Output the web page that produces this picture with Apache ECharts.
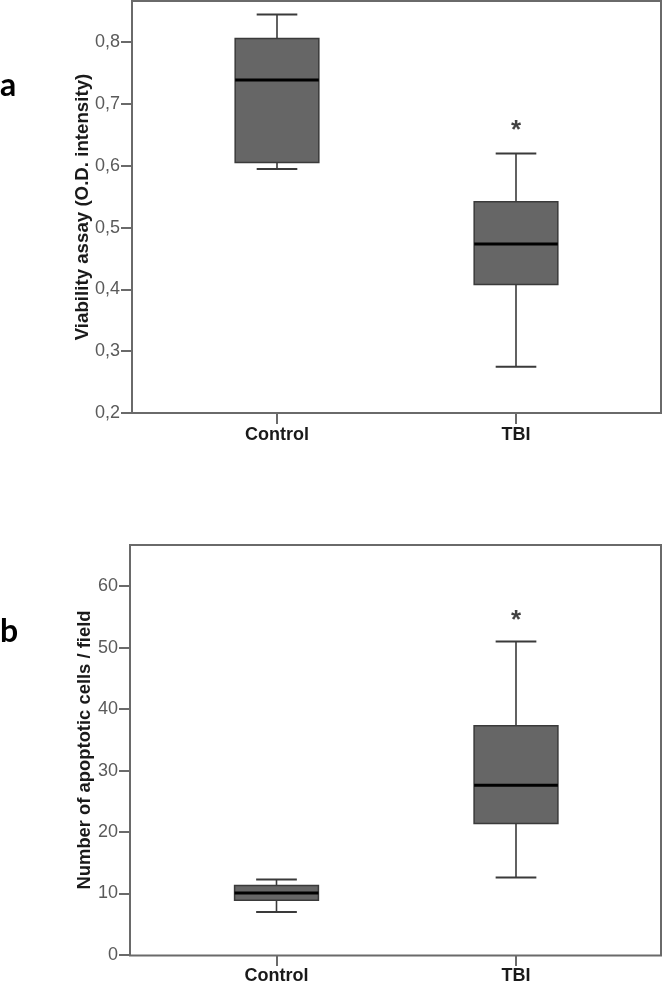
<!DOCTYPE html>
<html>
<head>
<meta charset="utf-8">
<script src="https://cdn.jsdelivr.net/npm/echarts@6/dist/echarts.min.js"></script>
<style>
html,body{margin:0;padding:0;background:#fff;}
#c{width:663px;height:985px;}
</style>
</head>
<body>
<div id="c"></div>
<script>
// ---- data ----
const categories = ['Control', 'TBI'];
// [min, Q1, median, Q3, max]
const viabilityControl = [0.595, 0.6055, 0.739, 0.806, 0.845];
const viabilityTBI = [0.275, 0.408, 0.4735, 0.542, 0.62];
const apoptoticControl = [7.0, 8.9, 10.1, 11.3, 12.3];
const apoptoticTBI = [12.6, 21.4, 27.6, 37.3, 51.0];
const viabilityTicks = [0.2, 0.3, 0.4, 0.5, 0.6, 0.7, 0.8];
const apoptoticTicks = [0, 10, 20, 30, 40, 50, 60];
const viabilitySig = ['TBI', 0.664];
const apoptoticSig = ['TBI', 55.1];
const titleA = 'Viability assay (O.D. intensity)';
const titleB = 'Number of apoptotic cells / field';

// ---- styles ----
const frameColor = '#6a6a6a';
const tickLabelColor = '#5a5a5a';
const boxFill = '#666666';
const boxStroke = '#3a3a3a';
const tickFont = '"Liberation Sans Narrow", "Arial Narrow", "Liberation Sans", Arial, sans-serif';

function boxData(a, b) {
  return [[0].concat(a), [1].concat(b)];
}

function renderBox(params, api) {
  const x = api.value(0);
  const lo = api.coord([x, api.value(1)]);
  const q1 = api.coord([x, api.value(2)]);
  const med = api.coord([x, api.value(3)]);
  const q3 = api.coord([x, api.value(4)]);
  const hi = api.coord([x, api.value(5)]);
  const band = api.size([1, 0])[0];
  const bw = band * 0.35;
  const cw = band * 0.17;
  const cx = lo[0];
  const ls = { stroke: '#3a3a3a', lineWidth: 1.6 };
  return {
    type: 'group',
    children: [
      { type: 'line', shape: { x1: cx, y1: q3[1], x2: cx, y2: hi[1] }, style: ls },
      { type: 'line', shape: { x1: cx, y1: q1[1], x2: cx, y2: lo[1] }, style: ls },
      { type: 'line', shape: { x1: cx - cw / 2, y1: hi[1], x2: cx + cw / 2, y2: hi[1] }, style: { stroke: '#3a3a3a', lineWidth: 2 } },
      { type: 'line', shape: { x1: cx - cw / 2, y1: lo[1], x2: cx + cw / 2, y2: lo[1] }, style: { stroke: '#3a3a3a', lineWidth: 2 } },
      { type: 'rect', shape: { x: cx - bw / 2, y: q3[1], width: bw, height: q1[1] - q3[1] }, style: { fill: boxFill, stroke: boxStroke, lineWidth: 1.5 } },
      { type: 'line', shape: { x1: cx - bw / 2, y1: med[1], x2: cx + bw / 2, y2: med[1] }, style: { stroke: '#000', lineWidth: 3 } }
    ]
  };
}

function hiddenAxis(gi) {
  return { type: 'value', gridIndex: gi, show: false, min: 0, max: 1 };
}

function catAxis(gi, margin) {
  return {
    type: 'category', gridIndex: gi, data: categories,
    axisLine: { show: false },
    axisTick: { show: true, alignWithLabel: true, length: 11, lineStyle: { color: frameColor, width: 2 } },
    axisLabel: { color: '#1a1a1a', fontSize: 18, fontWeight: 'bold', fontFamily: 'Liberation Sans, Arial, sans-serif', margin: margin },
    splitLine: { show: false }
  };
}

function valAxis(gi, min, max, interval, ticks, offset, name, dec, nameSize, gap) {
  return {
    type: 'value', gridIndex: gi, min: min, max: max, interval: interval, offset: offset,
    name: name, nameLocation: 'middle', nameRotate: 90, nameGap: gap, nameMoveOverlap: false,
    nameTextStyle: { color: '#1a1a1a', fontSize: nameSize, fontWeight: 'bold', fontFamily: 'Liberation Sans, Arial, sans-serif' },
    axisLine: { show: false },
    axisTick: { show: true, length: 11, customValues: ticks, lineStyle: { color: frameColor, width: 2 } },
    axisLabel: {
      color: tickLabelColor, fontSize: 18, fontFamily: tickFont, margin: 12,
      customValues: ticks,
      formatter: function (v) { return dec ? v.toFixed(1).replace('.', ',') : String(Math.round(v)); }
    },
    splitLine: { show: false }
  };
}

function sigSeries(ax, point) {
  return {
    type: 'scatter', xAxisIndex: ax, yAxisIndex: ax, symbolSize: 0, data: [point], silent: true,
    label: { show: true, position: 'inside', offset: [0, 5], formatter: '*', fontSize: 26, fontWeight: 'bold', color: '#111', fontFamily: 'Liberation Sans, Arial, sans-serif' }
  };
}

const chart = echarts.init(document.getElementById('c'), null, { renderer: 'canvas' });
chart.setOption({
  backgroundColor: '#fff',
  animation: false,
  grid: [
    { left: 132, right: 2, top: 1, bottom: 572, show: true, borderColor: frameColor, borderWidth: 2, backgroundColor: 'transparent' },
    { left: 157.5, right: 27.5, top: 1, bottom: 572 },
    { left: 130, right: 2, top: 545, bottom: 29.5, show: true, borderColor: frameColor, borderWidth: 2, backgroundColor: 'transparent' },
    { left: 156.75, right: 27.25, top: 545, bottom: 29.5 }
  ],
  xAxis: [hiddenAxis(0), catAxis(1, 13), hiddenAxis(2), catAxis(3, 12)],
  yAxis: [
    hiddenAxis(0),
    valAxis(1, 0.2, 0.8667, 0.1, viabilityTicks, 25.5, titleA, true, 18.7, 40),
    hiddenAxis(2),
    valAxis(3, 0, 66.7, 10, apoptoticTicks, 26.75, titleB, false, 18.4, 36)
  ],
  graphic: [
    { type: 'text', left: 0, top: 70, style: { text: 'a', fontSize: 32, fontWeight: 'bold', fontFamily: 'Lato, Open Sans, sans-serif', fill: '#000' } },
    { type: 'text', left: 0, top: 616, style: { text: 'b', fontSize: 32, fontWeight: 'bold', fontFamily: 'Lato, Open Sans, sans-serif', fill: '#000' } }
  ],
  series: [
    { type: 'custom', xAxisIndex: 1, yAxisIndex: 1, renderItem: renderBox, encode: { x: 0, y: [1, 2, 3, 4, 5] }, data: boxData(viabilityControl, viabilityTBI), silent: true },
    { type: 'custom', xAxisIndex: 3, yAxisIndex: 3, renderItem: renderBox, encode: { x: 0, y: [1, 2, 3, 4, 5] }, data: boxData(apoptoticControl, apoptoticTBI), silent: true },
    sigSeries(1, viabilitySig),
    sigSeries(3, apoptoticSig)
  ]
});
</script>
</body>
</html>
